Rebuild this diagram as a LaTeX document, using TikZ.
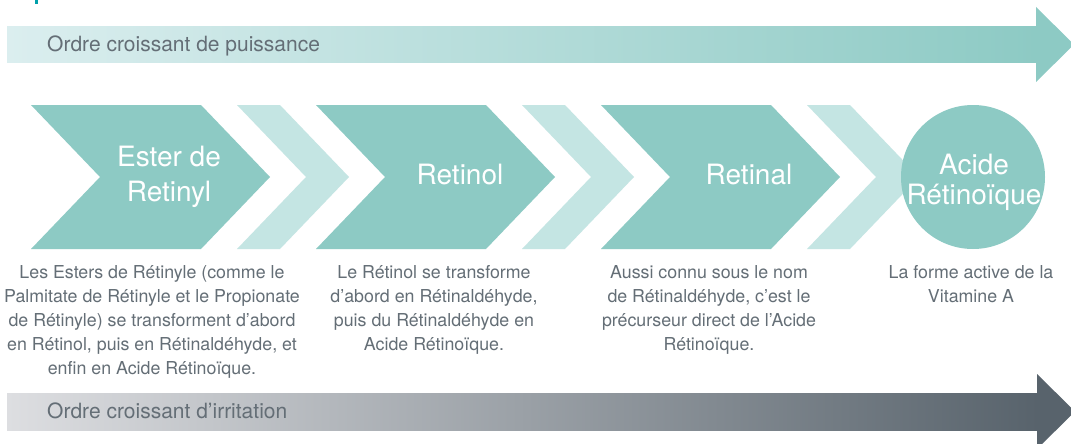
\documentclass[tikz,border=0pt]{standalone}
\usepackage{fontspec}
\setmainfont{TeX Gyre Heros}
\definecolor{chevdark}{RGB}{141,202,196}
\definecolor{chevlight}{RGB}{196,229,227}
\definecolor{barlightA}{RGB}{219,238,239}
\definecolor{barlightB}{RGB}{141,202,196}
\definecolor{greyA}{RGB}{221,222,225}
\definecolor{greyB}{RGB}{178,177,182}
\definecolor{greyC}{RGB}{88,99,108}
\definecolor{txtgrey}{RGB}{100,110,118}
\definecolor{markteal}{RGB}{0,160,170}
\tikzset{
  chevtext/.style={text=white, font=\fontsize{28}{35}\selectfont, align=center, inner sep=0pt},
  desc/.style={text=txtgrey, font=\fontsize{17.8}{24}\selectfont, align=center, inner sep=0pt, anchor=north},
  bartext/.style={text=txtgrey, font=\fontsize{21}{25}\selectfont, inner sep=0pt, anchor=base west},
}
\newcommand\darkchev[1]{\fill[chevdark] (#1,105) -- ({#1+170},105) -- ({#1+239},177) -- ({#1+170},249) -- (#1,249) -- ({#1+69},177) -- cycle;}
\newcommand\lightchev[1]{\fill[chevlight] (#1,105) -- ({#1+43},105) -- ({#1+112},177) -- ({#1+43},249) -- (#1,249) -- ({#1+69},177) -- cycle;}
\begin{document}
\begin{tikzpicture}[x=1pt,y=-1pt]
\useasboundingbox (0,0) rectangle (1071,444);
\fill[white] (0,0) rectangle (1071,444);
\begin{scope}
\clip (0,0) rectangle (1071,444);
% small mark at top left
\fill[markteal] (35,0) rectangle (38,4);
% top bar arrow
\shade[left color=barlightA, right color=barlightB] (7,27) rectangle (1037,63);
\fill[chevdark] (1036,7) -- (1074,44.5) -- (1036,82) -- cycle;
% bottom bar arrow
\shade[left color=greyA, middle color=greyB, right color=greyC] (7,393) rectangle (1038,430);
\fill[greyC] (1037,374) -- (1075,411.5) -- (1037,449) -- cycle;
% chevrons
\lightchev{807}
\darkchev{31}
\lightchev{237}
\darkchev{316}
\lightchev{522}
\darkchev{601}
\fill[chevdark] (973,177) circle[radius=72];
\end{scope}
% chevron labels
\node[chevtext] (ester) at (169,177) {Ester de\\Retinyl};
\node[chevtext, anchor=base] (retinol) at (460,184) {Retinol};
\node[chevtext, anchor=base] (retinal) at (749,184) {Retinal};
\node[chevtext, font=\fontsize{28}{30}\selectfont] (acide) at (974,182) {Acide\\Rétinoïque};
% descriptions
\node[desc] (d1) at (152,265) {Les Esters de Rétinyle (comme le\\Palmitate de Rétinyle et le Propionate\\de Rétinyle) se transforment d’abord\\en Rétinol, puis en Rétinaldéhyde, et\\enfin en Acide Rétinoïque.};
\node[desc] (d2) at (434,265) {Le Rétinol se transforme\\d’abord en Rétinaldéhyde,\\puis du Rétinaldéhyde en\\Acide Rétinoïque.};
\node[desc] (d3) at (709,265) {Aussi connu sous le nom\\de Rétinaldéhyde, c’est le\\précurseur direct de l’Acide\\Rétinoïque.};
\node[desc] (d4) at (971,265) {La forme active de la\\Vitamine A};
% bar labels
\node[bartext] (power) at (47,52) {Ordre croissant de puissance};
\node[bartext] (irrit) at (47,418) {Ordre croissant d’irritation};
\end{tikzpicture}
\end{document}
